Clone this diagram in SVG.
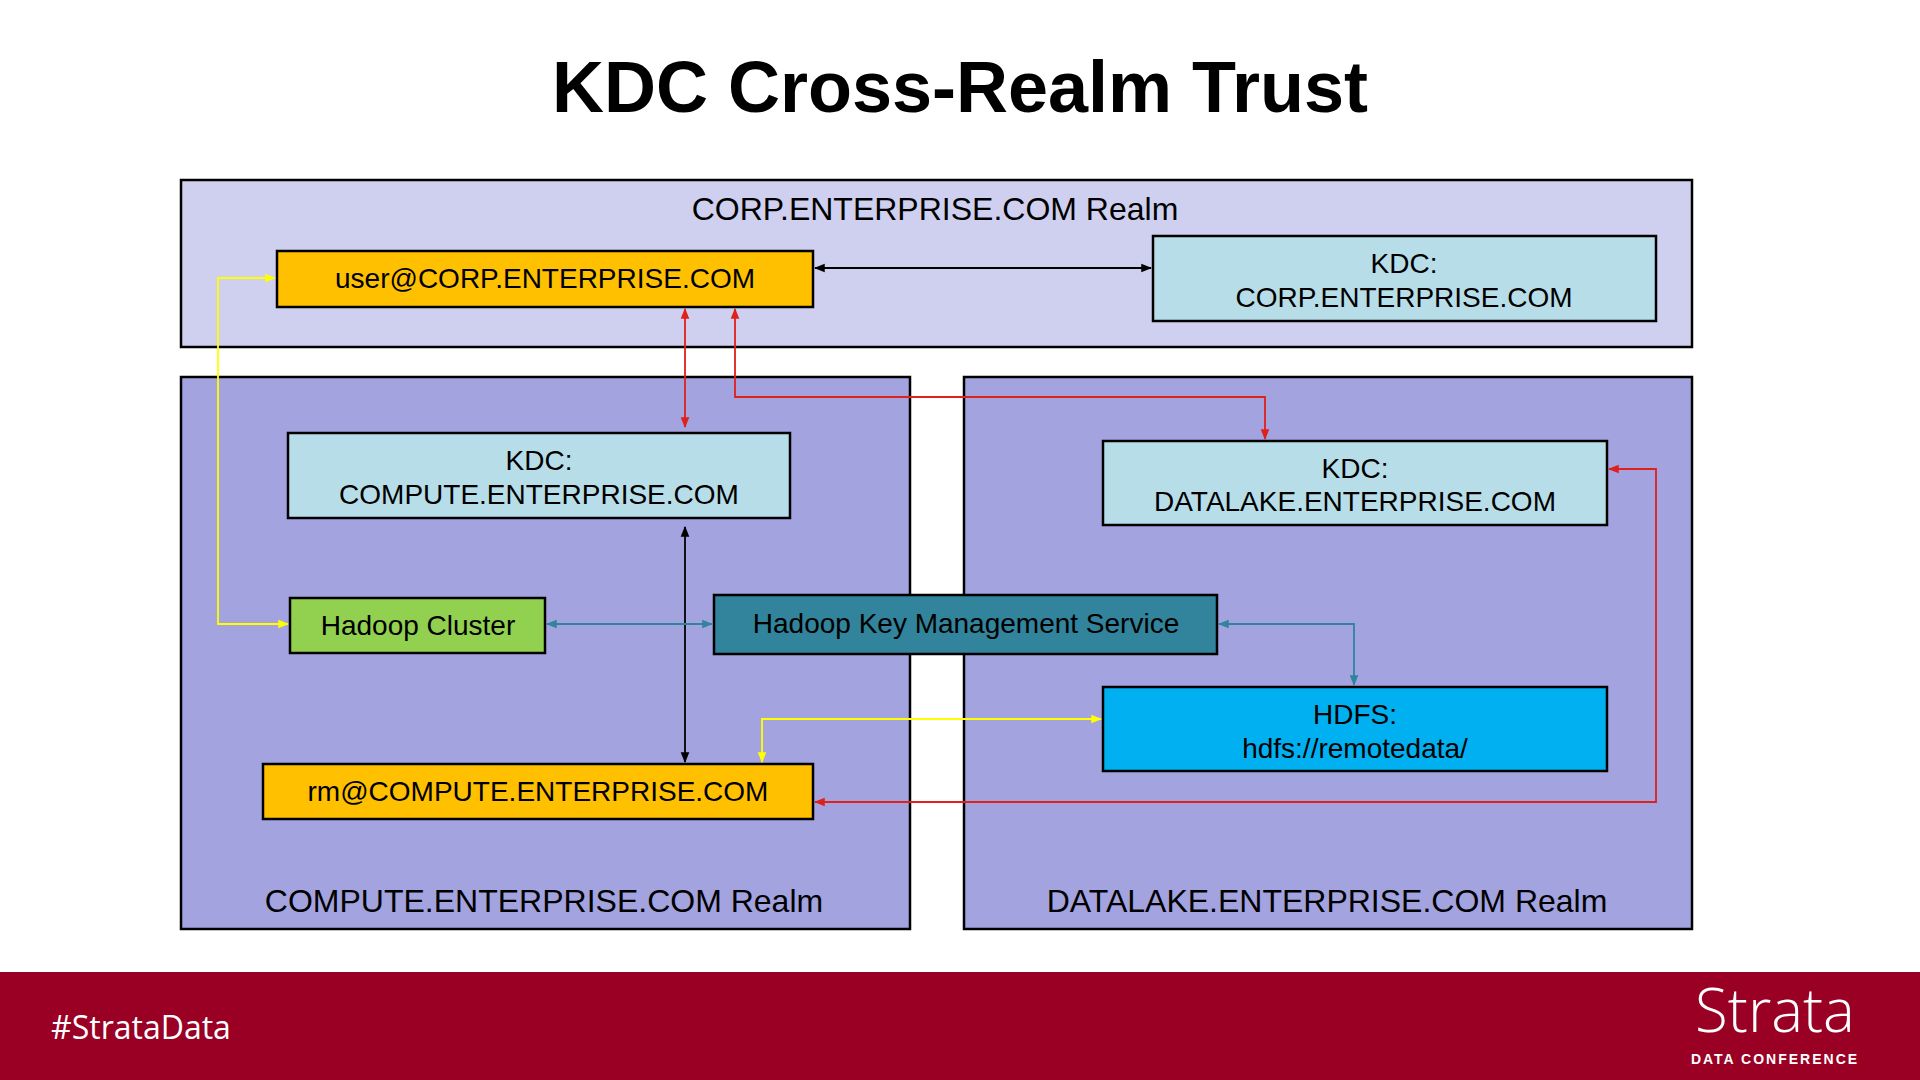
<svg xmlns="http://www.w3.org/2000/svg" width="1920" height="1080" viewBox="0 0 1920 1080">
<defs>
<marker id="ak" viewBox="0 0 10 10" refX="9" refY="5" markerWidth="6" markerHeight="6" orient="auto-start-reverse"><path d="M0,1 L10,5 L0,9 z" fill="#000"/></marker>
<marker id="ar" viewBox="0 0 10 10" refX="9" refY="5" markerWidth="6" markerHeight="6" orient="auto-start-reverse"><path d="M0,1 L10,5 L0,9 z" fill="#E0201A"/></marker>
<marker id="ay" viewBox="0 0 10 10" refX="9" refY="5" markerWidth="6" markerHeight="6" orient="auto-start-reverse"><path d="M0,1 L10,5 L0,9 z" fill="#FFFF00"/></marker>
<marker id="at" viewBox="0 0 10 10" refX="9" refY="5" markerWidth="6" markerHeight="6" orient="auto-start-reverse"><path d="M0,1 L10,5 L0,9 z" fill="#31849B"/></marker>
</defs>
<style>
text{font-family:"Liberation Sans",Arial,sans-serif;font-size:28px;fill:#000;text-anchor:middle}
.realm{font-size:32px}
.box{stroke:#000;stroke-width:2.5}
.c{fill:none;stroke-width:1.8}
</style>
<rect width="1920" height="1080" fill="#fff"/>
<text x="960" y="112" style="font-size:72px;font-weight:bold">KDC Cross-Realm Trust</text>
<g id="corp-realm"><rect x="181" y="180" width="1511" height="167" fill="#CFD0F0" class="box"/><text class="realm" x="935" y="220">CORP.ENTERPRISE.COM Realm</text></g>
<g id="compute-realm"><rect x="181" y="377" width="729" height="552" fill="#A3A3E0" class="box"/><text class="realm" x="544" y="912">COMPUTE.ENTERPRISE.COM Realm</text></g>
<g id="datalake-realm"><rect x="964" y="377" width="728" height="552" fill="#A3A3E0" class="box"/><text class="realm" x="1327" y="912">DATALAKE.ENTERPRISE.COM Realm</text></g>
<g id="user"><rect x="277" y="251" width="536" height="56" fill="#FFC000" class="box"/><text x="545" y="288">user@CORP.ENTERPRISE.COM</text></g>
<g id="kdc-corp"><rect x="1153" y="236" width="503" height="85" fill="#B7DEE8" class="box"/><text x="1404" y="273">KDC:</text><text x="1404" y="307">CORP.ENTERPRISE.COM</text></g>
<g id="kdc-compute"><rect x="288" y="433" width="502" height="85" fill="#B7DEE8" class="box"/><text x="539" y="470">KDC:</text><text x="539" y="504">COMPUTE.ENTERPRISE.COM</text></g>
<g id="kdc-datalake"><rect x="1103" y="441" width="504" height="84" fill="#B7DEE8" class="box"/><text x="1355" y="478">KDC:</text><text x="1355" y="511">DATALAKE.ENTERPRISE.COM</text></g>
<g id="hadoop"><rect x="290" y="598" width="255" height="55" fill="#92D050" class="box"/><text x="418" y="635">Hadoop Cluster</text></g>
<g id="kms"><rect x="714" y="595" width="503" height="59" fill="#31849B" class="box"/><text x="966" y="633">Hadoop Key Management Service</text></g>
<g id="hdfs"><rect x="1103" y="687" width="504" height="84" fill="#00B0F0" class="box"/><text x="1355" y="724">HDFS:</text><text x="1355" y="758">hdfs://remotedata/</text></g>
<g id="rm"><rect x="263" y="764" width="550" height="55" fill="#FFC000" class="box"/><text x="538" y="801">rm@COMPUTE.ENTERPRISE.COM</text></g>
<g id="connectors">
<path class="c" stroke="#000" d="M815,268 H1151" marker-start="url(#ak)" marker-end="url(#ak)"/>
<path class="c" stroke="#E0201A" d="M685,309 V427" marker-start="url(#ar)" marker-end="url(#ar)"/>
<path class="c" stroke="#E0201A" d="M735,309 V397 H1265 V439" marker-start="url(#ar)" marker-end="url(#ar)"/>
<path class="c" stroke="#FFFF00" d="M275,278 H218 V624 H288" marker-start="url(#ay)" marker-end="url(#ay)"/>
<path class="c" stroke="#000" d="M685,527 V762" marker-start="url(#ak)" marker-end="url(#ak)"/>
<path class="c" stroke="#31849B" d="M547,624 H712" marker-start="url(#at)" marker-end="url(#at)"/>
<path class="c" stroke="#31849B" d="M1219,624 H1354 V685" marker-start="url(#at)" marker-end="url(#at)"/>
<path class="c" stroke="#FFFF00" d="M1101,719 H762 V762" marker-start="url(#ay)" marker-end="url(#ay)"/>
<path class="c" stroke="#E0201A" d="M1609,469 H1656 V802 H815" marker-start="url(#ar)" marker-end="url(#ar)"/>
</g>
<rect x="0" y="972" width="1920" height="108" fill="#990024"/>
<text x="51" y="1039" style="fill:#fff;font-size:32px;text-anchor:start;font-family:'Open Sans',sans-serif">#StrataData</text>
<text x="1775" y="1032" style="fill:#fff;font-size:60px;font-family:'Open Sans',sans-serif;font-weight:300">Strata</text>
<text x="1775" y="1064" style="fill:#fff;font-size:14px;font-weight:bold;letter-spacing:2px">DATA CONFERENCE</text>
</svg>
